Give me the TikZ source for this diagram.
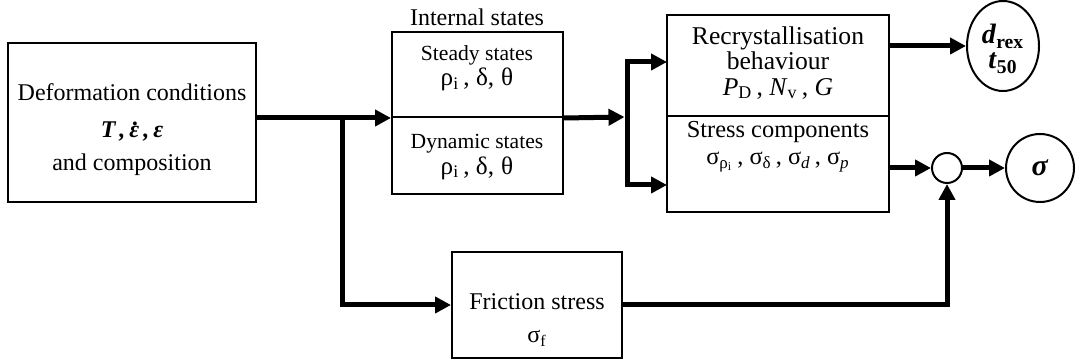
\documentclass[tikz,border=0pt]{standalone}
\usepackage{fontspec}
\setmainfont{Liberation Serif}
\usetikzlibrary{arrows.meta,fit,shapes.geometric}
\newcommand\epsdot{\ooalign{ε\cr\hidewidth\kern0.12em\smash{\raisebox{0.5em}{.}}\hidewidth\cr}}
\begin{document}
\begin{tikzpicture}[x=0.5pt,y=-0.5pt,
  blk/.style={draw, line width=1pt, inner sep=0pt},
  txt/.style={align=center, inner sep=0pt, font=\fontsize{12}{16.5}\selectfont},
  smalltxt/.style={align=center, inner sep=0pt, font=\fontsize{10.8}{12.8}\selectfont},
  flow/.style={line width=2.5pt, -{Triangle[length=8pt,width=8pt]}},
  wire/.style={line width=2.5pt},
  roundnode/.style={draw, line width=1pt, inner sep=0pt, align=center},
]
\useasboundingbox (0,0) rectangle (1080,362);

% boxes
\node[blk, fit={(8,43) (256,202)}] (def) {};
\node[txt] (deftxt) at (132,130) {Deformation conditions\\[2pt]
  \textbf{\textit{T\,,\,\epsdot\,,\,ε}}\\and composition};

\node[txt] (intlbl) at (477,17) {Internal states};
\node[blk, fit={(392,32) (563,117)}] (steady) {};
\node[blk, fit={(392,117) (563,194)}] (dyn) {};
\node[smalltxt] (steadytxt) at (477,68) {Steady states\\{\fontsize{12.6}{12.6}\selectfont ρ\textsubscript{i}\,, δ,\;θ}};
\node[smalltxt] (dyntxt) at (477,157) {Dynamic states\\{\fontsize{12.6}{12.6}\selectfont ρ\textsubscript{i}\,, δ,\;θ}};

\node[blk, fit={(667,15) (889,116)}] (rec) {};
\node[blk, fit={(667,116) (889,212)}] (stress) {};
\node[align=center, inner sep=0pt, font=\fontsize{12.8}{12.6}\selectfont] (rectxt) at (778,63)
  {Recrystallisation\\behaviour\\\textit{P}\textsubscript{D}\,, \textit{N}\textsubscript{v}\,, \textit{G}};
\node[align=center, inner sep=0pt, font=\fontsize{12.2}{13.5}\selectfont] (stresstxt) at (778,147)
  {Stress components\\σ\textsubscript{ρ\textsubscript{i}}\,, σ\textsubscript{δ}\,, σ\textsubscript{\textit{d}}\,, σ\textsubscript{\textit{p}}};

\node[blk, fit={(452,252) (622,358)}] (fric) {};
\node[txt] (frictxt) at (537,320) {Friction stress\\σ\textsubscript{f}};

% outputs
\node[roundnode, ellipse, minimum width=36pt, minimum height=45pt] (drex) at (1003,46) {};
\node[align=center, inner sep=0pt, font=\fontsize{14}{12.5}\selectfont] (drextxt) at (1003,49)
  {\textbf{\textit{d}}\textsubscript{\textbf{rex}}\\\textbf{\textit{t}}\textsubscript{\textbf{50}}};
\node[roundnode, circle, minimum size=15pt] (sum) at (947,168) {};
\node[roundnode, circle, minimum size=34pt, font=\fontsize{15}{15}\selectfont] (sig) at (1040,168) {\textbf{\textit{σ}}};

% connectors
\coordinate (br) at (342,117);
\coordinate (bar) at (627,117);
\coordinate (rin) at (667,62);
\coordinate (sin) at (667,185);

\draw[flow] (def.east |- steady.south) -- (steady.south west);
\draw[flow] (br) |- (fric.west);
\draw[flow] (steady.south east) -- ([xshift=-1.25pt]bar);
\draw[flow] (bar) |- (rin);
\draw[flow] (bar) |- (sin);
\draw[flow] (rec.east |- drex.west) -- (drex.west);
\draw[flow] (stress.east |- sum.west) -- (sum.west);
\draw[flow] (sum.east) -- (sig.west);
\draw[flow] (fric.east) -| (sum.south);
\end{tikzpicture}
\end{document}
